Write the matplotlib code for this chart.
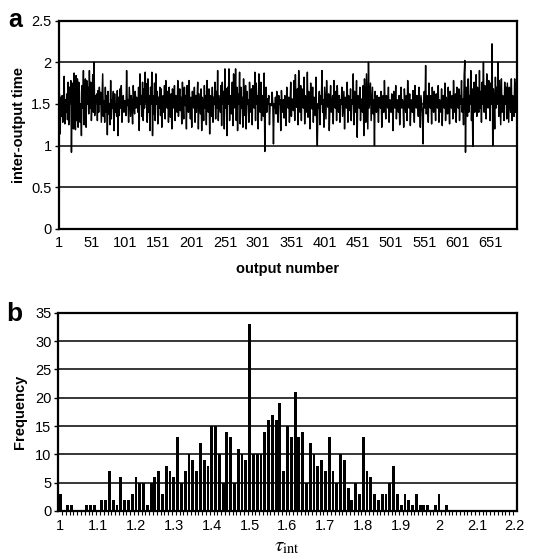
import matplotlib
matplotlib.use("Agg")
import matplotlib.pyplot as plt
import numpy as np

plt.rcParams['font.family'] = ['Liberation Sans', 'DejaVu Sans']
plt.rcParams['mathtext.fontset'] = 'stix'

# ---- Panel a: inter-output time (hundredths) per output number ----
inter_output_time_x100 = [
    160,162,114,158,135,160,128,150,183,126,155,140,162,131,176,125,170,152,178,92,160,175,120,187,142,119,184,130,180,122,
    176,165,128,150,112,172,145,190,125,160,180,122,178,150,170,138,190,145,176,130,150,185,140,200,136,160,152,162,130,166,
    140,170,150,164,128,158,186,135,154,128,170,140,160,113,165,138,150,125,178,132,155,145,165,118,162,140,150,135,166,112,
    158,136,168,145,172,128,150,160,140,154,150,136,190,148,155,128,170,152,135,160,148,126,172,150,138,165,145,158,150,140,
    170,118,186,150,160,135,176,130,168,145,188,152,174,128,180,140,160,118,170,150,188,112,160,138,175,130,186,150,165,126,
    158,145,170,136,168,122,150,160,140,172,132,178,150,145,165,128,170,150,134,162,120,168,150,145,172,130,160,155,140,178,
    135,150,168,142,158,126,176,150,132,170,148,160,120,172,152,140,178,150,132,158,122,165,150,145,170,128,160,140,155,176,
    120,162,150,138,168,118,158,150,130,172,145,160,125,178,150,140,168,114,160,150,135,170,128,158,150,176,132,165,145,190,
    130,160,150,140,172,124,176,150,165,120,192,145,168,112,170,150,192,130,160,150,138,176,124,186,150,145,192,130,170,118,
    162,150,188,126,170,145,158,122,180,150,136,172,120,165,150,155,128,176,150,140,168,125,172,150,145,188,130,175,150,160,
    120,186,150,140,176,130,160,150,135,187,93,150,170,140,156,150,160,125,150,150,148,164,150,102,150,145,158,138,165,150,
    128,160,150,155,118,166,150,140,155,133,160,150,124,170,150,145,158,128,150,176,135,156,150,142,178,130,185,150,146,168,
    125,190,150,140,172,130,168,150,145,182,126,160,150,140,188,134,165,150,120,175,150,144,170,128,158,150,136,182,128,100,
    150,145,165,125,160,150,190,140,155,122,170,150,132,178,150,146,162,118,150,172,140,150,160,126,178,150,145,165,130,172,
    150,140,160,128,155,150,170,135,150,165,120,158,150,145,176,128,160,150,142,168,130,155,150,186,125,165,150,140,178,110,
    160,150,145,170,130,156,150,140,172,112,180,150,128,186,150,120,200,145,160,175,130,150,170,138,155,100,165,150,140,160,
    150,128,158,150,145,165,122,150,160,140,178,150,132,160,150,145,170,128,155,150,140,162,150,118,165,150,145,172,132,155,
    150,140,160,125,150,170,145,155,150,122,168,150,140,160,130,178,150,145,162,124,155,150,140,166,150,128,172,150,145,160,
    150,135,170,150,122,160,150,140,102,150,165,145,196,138,160,150,128,175,150,145,160,126,170,150,140,165,150,130,162,150,
    145,172,128,155,150,140,168,124,160,150,145,175,130,158,150,138,170,150,126,165,150,145,160,132,178,150,140,162,128,170,
    150,145,168,130,160,150,178,140,156,125,185,202,92,170,150,135,180,140,160,150,190,130,168,99,150,176,140,160,185,135,
    170,150,140,190,145,165,128,176,150,200,140,172,150,132,186,150,145,178,160,130,175,150,222,100,168,150,120,182,145,170,
    150,200,135,178,150,125,180,140,160,150,130,176,150,170,132,175,150,128,170,150,140,180,130,160,150,135,180,140,175,150,
]
a_yticks = [0, 0.5, 1, 1.5, 2, 2.5]
a_xtick_labels = [1, 51, 101, 151, 201, 251, 301, 351, 401, 451, 501, 551, 601, 651]

# ---- Panel b: histogram of tau_int (bins 1.00 .. 2.20, step 0.01) ----
tau_bins_x100 = list(range(100, 221))
frequency = [
    3, 0, 1, 1, 0, 0, 0, 1, 1, 1,
    0, 2, 2, 7, 2, 1, 6, 2, 2, 3,
    6, 5, 5, 1, 5, 6, 7, 3, 8, 7,
    6, 13, 5, 7, 10, 9, 7, 12, 9, 8,
    15, 15, 10, 5, 14, 13, 5, 11, 10, 9,
    33, 10, 10, 10, 14, 16, 17, 16, 19, 7,
    15, 13, 21, 13, 14, 5, 12, 10, 8, 9,
    7, 13, 7, 5, 10, 9, 4, 2, 5, 3,
    13, 7, 6, 3, 2, 3, 3, 5, 8, 3,
    1, 3, 2, 1, 3, 1, 1, 1, 0, 1,
    3, 0, 1, 0, 0, 0, 0, 0, 0, 0,
    0, 0, 0, 0, 0, 0, 0, 0, 0, 0,
    0,
]
b_yticks = [0, 5, 10, 15, 20, 25, 30, 35]
b_xtick_labels = ['1', '1.1', '1.2', '1.3', '1.4', '1.5', '1.6', '1.7', '1.8', '1.9', '2', '2.1', '2.2']

W, H = 542, 556
fig = plt.figure(figsize=(W / 100, H / 100), dpi=100)

def rect(l, t, r, b):
    return [l / W, 1 - b / H, (r - l) / W, (b - t) / H]

tick_fs = 10.5
label_fs = 10.5

# ---------- panel a ----------
axa = fig.add_axes(rect(58.5, 20.5, 517, 229))
vals = np.array(inter_output_time_x100) / 100.0
n = len(vals)
idx = np.arange(1, n + 1)
for yv in a_yticks[1:-1]:
    axa.axhline(yv, color='black', lw=1.1, zorder=1)
axa.plot(idx, vals, color='black', lw=1.05, zorder=2)
axa.set_xlim(0.5, n + 0.5)
axa.set_ylim(0, 2.5)
axa.set_yticks(a_yticks)
axa.set_yticklabels(['0', '0.5', '1', '1.5', '2', '2.5'], fontsize=tick_fs)
axa.set_xticks(a_xtick_labels)
axa.set_xticklabels([str(v) for v in a_xtick_labels], fontsize=tick_fs)
axa.tick_params(axis='x', length=0, pad=5)
axa.tick_params(axis='y', length=3, width=1, direction='out', pad=2)
for s in axa.spines.values():
    s.set_linewidth(1.6)
axa.set_ylabel('inter-output time', fontsize=label_fs, fontweight='bold', labelpad=4)
axa.set_xlabel('output number', fontsize=label_fs, fontweight='bold', labelpad=9)
fig.text(8 / W, 1 - 20 / H, 'a', fontsize=18, fontweight='bold', va='center', ha='left')

# ---------- panel b ----------
axb = fig.add_axes(rect(58.3, 312.7, 516.7, 511))
cats = np.arange(len(tau_bins_x100))
for yv in b_yticks[1:-1]:
    axb.axhline(yv, color='black', lw=1.1, zorder=1)
axb.bar(cats, frequency, width=0.76, color='black', zorder=2)
axb.set_xlim(-0.5, len(cats) - 0.5)
axb.set_ylim(0, 35)
axb.set_yticks(b_yticks)
axb.set_yticklabels([str(v) for v in b_yticks], fontsize=tick_fs)
major_pos = [i for i, t in enumerate(tau_bins_x100) if t % 10 == 0]
axb.set_xticks(major_pos)
axb.set_xticklabels(b_xtick_labels, fontsize=tick_fs)
axb.set_xticks(cats[:-1] + 0.5, minor=True)
axb.tick_params(axis='x', which='major', length=0, pad=6)
axb.tick_params(axis='x', which='minor', length=3, width=0.8, direction='out')
axb.tick_params(axis='y', length=3, width=1, direction='out', pad=2)
for s in axb.spines.values():
    s.set_linewidth(1.6)
axb.set_ylabel('Frequency', fontsize=label_fs, fontweight='bold', labelpad=6)
axb.set_xlabel(r'$\tau_{\mathrm{int}}$', fontsize=15, labelpad=3)
fig.text(6 / W, 1 - 314 / H, 'b', fontsize=19, fontweight='bold', va='center', ha='left')

fig.savefig('out.png', dpi=100)
